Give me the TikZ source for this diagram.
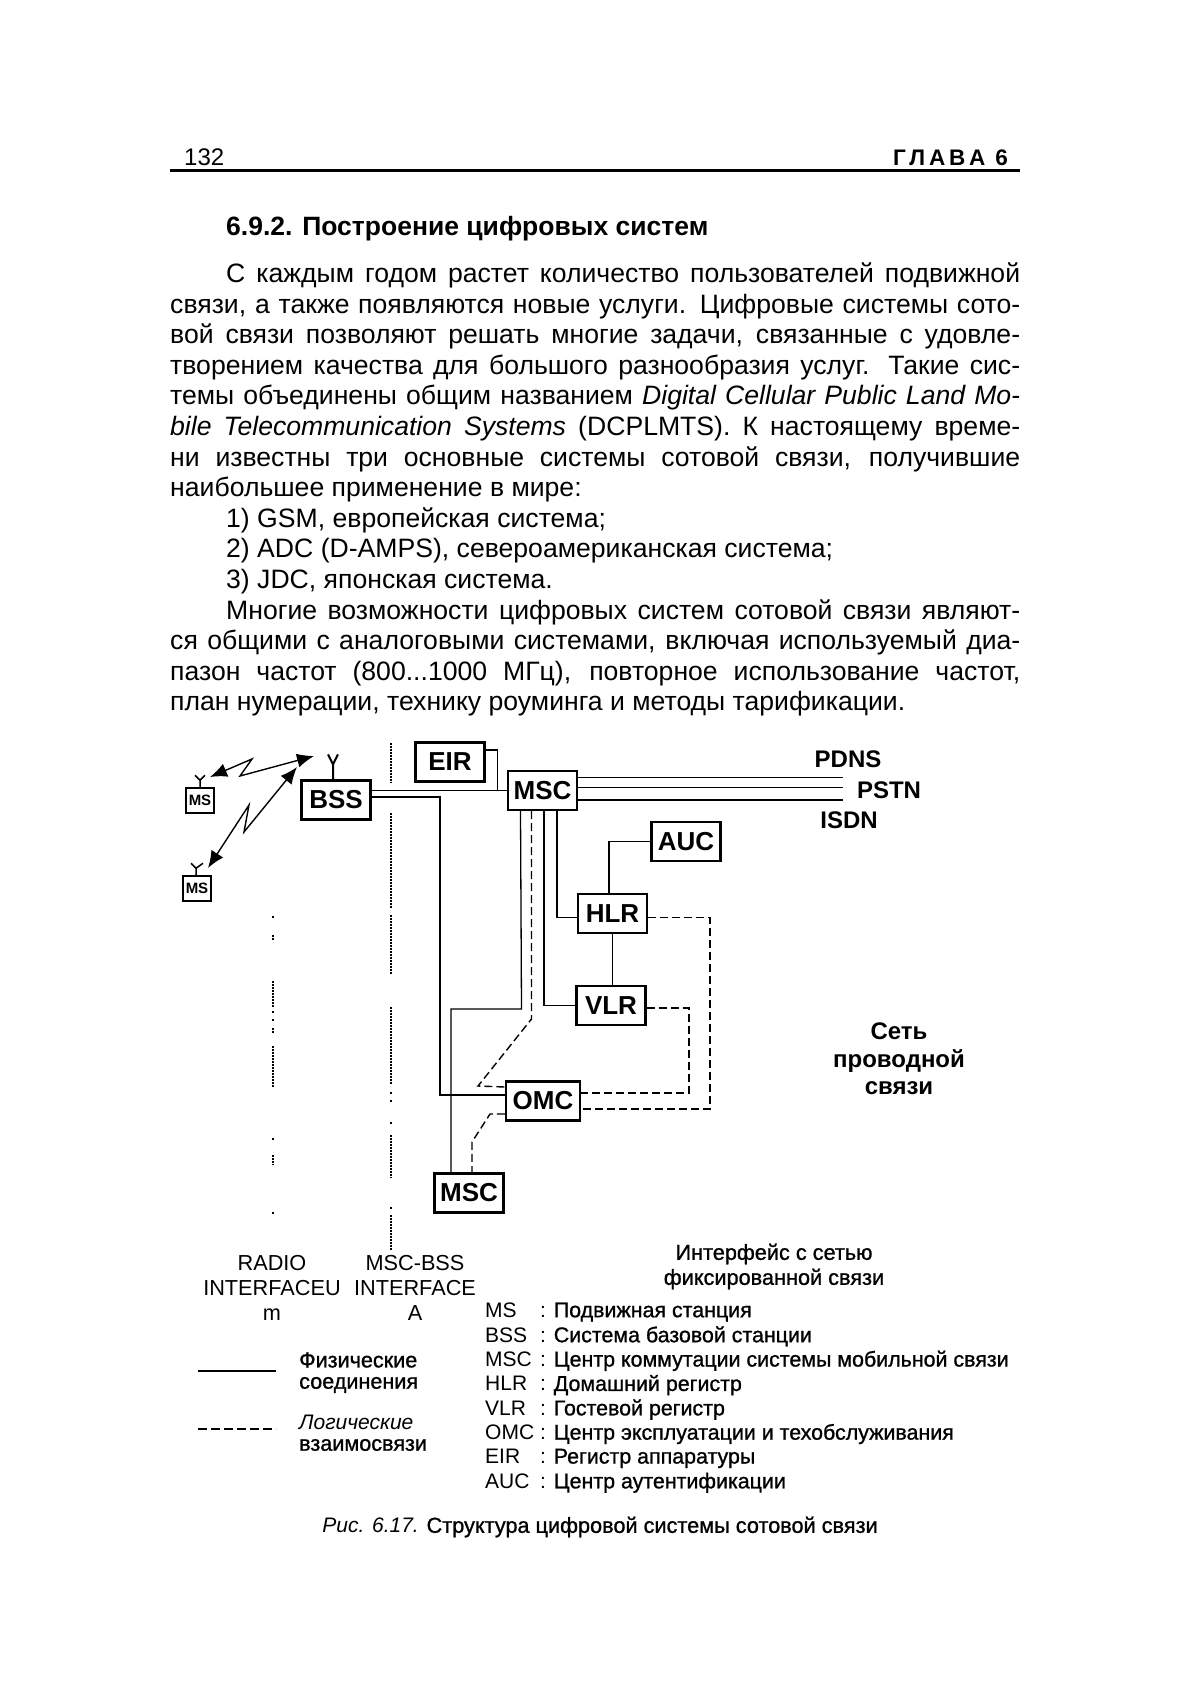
\documentclass[tikz,border=0pt]{standalone}
\usepackage{fontspec}
\setmainfont{Liberation Sans}
\newfontface\semifont[FakeBold=1]{Liberation Sans}
\usetikzlibrary{arrows.meta}
\newcommand{\fs}[1]{\fontsize{#1}{#1}\selectfont}
\tikzset{
    unit/.style={draw, line width=2.2, minimum width=69, minimum height=39, inner sep=0, font=\fs{26}\bfseries},
    smallunit/.style={draw, line width=1.5, minimum width=28, minimum height=25, inner sep=0, font=\fs{15}\bfseries},
    wire/.style={line width=1.3},
    logic/.style={line width=1.4, dash pattern=on 8 off 4},
    dotline/.style={line width=1.2, dash pattern=on 1.5 off 1.5},
    mast/.style={line width=1.5},
    radio/.style={line width=1.4, {Latex[length=17,width=14]}-{Latex[length=17,width=14]}},
    label/.style={inner sep=0, align=center},
    legend/.style={inner sep=0, anchor=west, font=\fs{21.6}\semifont},
    keyrow/.style={inner sep=0, anchor=west, font=\fs{21}},
}
\begin{document}
\begin{tikzpicture}[x=1pt, y=-1pt]
\useasboundingbox (0,0) rectangle (1190,1684);
% page
\node (pagenum) [label, anchor=base west, font=\fs{24}] at (184,165) {132};
\node (chapter) [label, anchor=base east, font=\fs{22.5}\bfseries] at (1008,165) {Г\,Л\,А\,В\,А\, 6};
\draw[line width=3] (170,170) -- (1020,170);
\node (heading) [label, anchor=base west, font=\fs{26.5}\bfseries] at (226,235) {6.9.2. Построение цифровых систем};
\node (bodytext) [inner sep=0, anchor=base west, text width=850, align=justify, font=\fontsize{26.6}{30.6}\selectfont] at (170,282.5) {%
\hspace*{56pt}С каждым годом растет количество пользователей подвижной\linebreak
связи, а также появляются новые услуги. Цифровые системы сото-\linebreak
вой связи позволяют решать многие задачи, связанные с удовле-\linebreak
творением качества для большого разнообразия услуг. Такие сис-\linebreak
темы объединены общим названием \textit{Digital Cellular Public Land Mo-}\linebreak
\textit{bile Telecommunication Systems} (DCPLMTS). К настоящему време-\linebreak
ни известны три основные системы сотовой связи, получившие\linebreak
наибольшее применение в мире:\newline
\hspace*{56pt}1) GSM, европейская система;\newline
\hspace*{56pt}2) ADC (D-AMPS), североамериканская система;\newline
\hspace*{56pt}3) JDC, японская система.\newline
\hspace*{56pt}Многие возможности цифровых систем сотовой связи являют-\linebreak
ся общими с аналоговыми системами, включая используемый диа-\linebreak
пазон частот (800...1000~МГц), повторное использование частот,\linebreak
план нумерации, технику роуминга и методы тарификации.};

% units
\node (ms_top) [smallunit] at (200,800.5) {MS};
\node (ms_bottom) [smallunit] at (197,888.5) {MS};
\node (bss) [unit] at (336,800) {BSS};
\node (eir) [unit] at (450,762) {EIR};
\node (msc_main) [unit] at (542.5,790.5) {MSC};
\node (auc) [unit] at (686,841.5) {AUC};
\node (hlr) [unit] at (612.5,913.5) {HLR};
\node (vlr) [unit] at (611,1005.5) {VLR};
\node (omc) [unit, minimum width=74] at (543,1101) {OMC};
\node (msc_low) [unit] at (469,1193) {MSC};

% masts and radio links
\draw[mast] (ms_top.north) -- ++(0,-7) -- ++(-5,-5) ++(5,5) -- ++(5,-5);
\draw[mast] ([xshift=-1]ms_bottom.north) -- ++(0,-7) -- ++(-5,-5) ++(5,5) -- ++(7,-5);
\draw[mast, line width=2] ([xshift=-3]bss.north) -- ++(0,-15) -- ++(-5,-10) ++(5,10) -- ++(5,-10);
\coordinate (air_a) at (210,777);
\coordinate (air_b) at (314,756);
\coordinate (air_c) at (208,868);
\coordinate (air_d) at (297,767);
\draw[radio] (air_a) -- (252,759) -- (240,776) -- (air_b);
\draw[radio] (air_c) -- (249,805) -- (244,832) -- (air_d);

% interface borders
\foreach \ya/\yb in {743/783, 813/908, 915/974, 1007/1085, 1092/1094, 1100/1102, 1122/1124, 1135/1178, 1207/1209, 1215/1250}
    \draw[dotline] (391,\ya) -- (391,\yb);
\foreach \ya/\yb in {916/918, 935/941, 981/1007, 1011/1013, 1019/1021, 1028/1033, 1046/1087, 1138/1140, 1155/1165, 1212/1214}
    \draw[dotline] (273,\ya) -- (273,\yb);

% physical links
\draw[wire] ([yshift=9.5]bss.east) -- (msc_main.west);
\draw[wire] ([yshift=3]bss.east) -| (440,1095) -- ([yshift=6]omc.west);
\draw[wire] (eir.east |- 0,750) -| (497.5,790.5);
\draw[wire] ([xshift=-22]msc_main.south) -- (521.5,1009) -| ([xshift=-18]msc_low.north);
\draw[wire] ([xshift=1.5]msc_main.south) |- (vlr.west);
\draw[wire] ([xshift=14.5]msc_main.south) |- ([yshift=-4]hlr.west);
\draw[wire] (auc.west) -| ([xshift=-3.5]hlr.north);
\draw[wire] (hlr.south) -- (hlr.south |- vlr.north);
\draw[wire] ([yshift=13]msc_main.east) -- (843,777.5);
\draw[wire] ([yshift=3]msc_main.east) -- (843,787.5);
\draw[wire] ([yshift=-9.5]msc_main.east) -- (843,800);

% logical links
\draw[logic] ([xshift=-11]msc_main.south) -- (531.5,1019) -- (478,1086) -- ([yshift=14]omc.west);
\draw[logic] ([yshift=-4]hlr.east) -| (710,1109) -- ([yshift=-8]omc.east);
\draw[logic] ([yshift=-2.5]vlr.east) -| (689,1093) -- ([yshift=8]omc.east);
\draw[logic] ([yshift=-13]omc.west) -- (490,1114) -- (472,1142) -- (472,1172);

% labels
\node (pdns) [label, font=\fs{24}\bfseries] at (848,759) {PDNS};
\node (pstn) [label, font=\fs{24}\bfseries] at (889,790) {PSTN};
\node (isdn) [label, font=\fs{24}\bfseries] at (849,820) {ISDN};
\node (wired) [label, font=\fontsize{24}{27.5}\selectfont\bfseries] at (899,1059) {Сеть\\проводной\\связи};
\node (radio_if) [label, font=\fontsize{21.7}{25}\selectfont] at (272,1288) {RADIO\\INTERFACEU\\m};
\node (msc_bss_if) [label, font=\fontsize{21.7}{25}\selectfont] at (415,1288) {MSC-BSS\\INTERFACE\\A};
\node (fixed_if) [label, font=\fontsize{21.7}{25}\selectfont\semifont] at (774,1266.5) {Интерфейс с сетью\\фиксированной связи};

% legend
\coordinate (solid_a) at (198,1371);
\coordinate (solid_b) at (276,1371);
\coordinate (dash_a) at (198,1429);
\coordinate (dash_b) at (276,1429);
\draw[wire] (solid_a) -- (solid_b);
\draw[logic, dash pattern=on 9 off 4] (dash_a) -- (dash_b);
\node (phys_a) [legend] at (299,1360) {Физические};
\node (phys_b) [legend] at (299,1385) {соединения};
\node (log_a) [legend, font=\fs{21}] at (299,1422) {\textit{Логические}};
\node (log_b) [legend] at (299,1445) {взаимосвязи};

\foreach \abbr/\desc [count=\i from 0] in {MS/Подвижная станция, BSS/Система базовой станции, MSC/Центр коммутации системы мобильной связи, HLR/Домашний регистр, VLR/Гостевой регистр, OMC/Центр эксплуатации и техобслуживания, EIR/Регистр аппаратуры, AUC/Центр аутентификации}
    \node (key\i) [keyrow] at (485,1312+24.4*\i) {\makebox[55pt][l]{\abbr}: {\fs{21.4}\semifont\desc}};

\node (caption) [label, font=\fs{21}] at (600,1527) {\textit{Рис. 6.17.} {\fs{21.7}\semifont Структура цифровой системы сотовой связи}};
\end{tikzpicture}
\end{document}
